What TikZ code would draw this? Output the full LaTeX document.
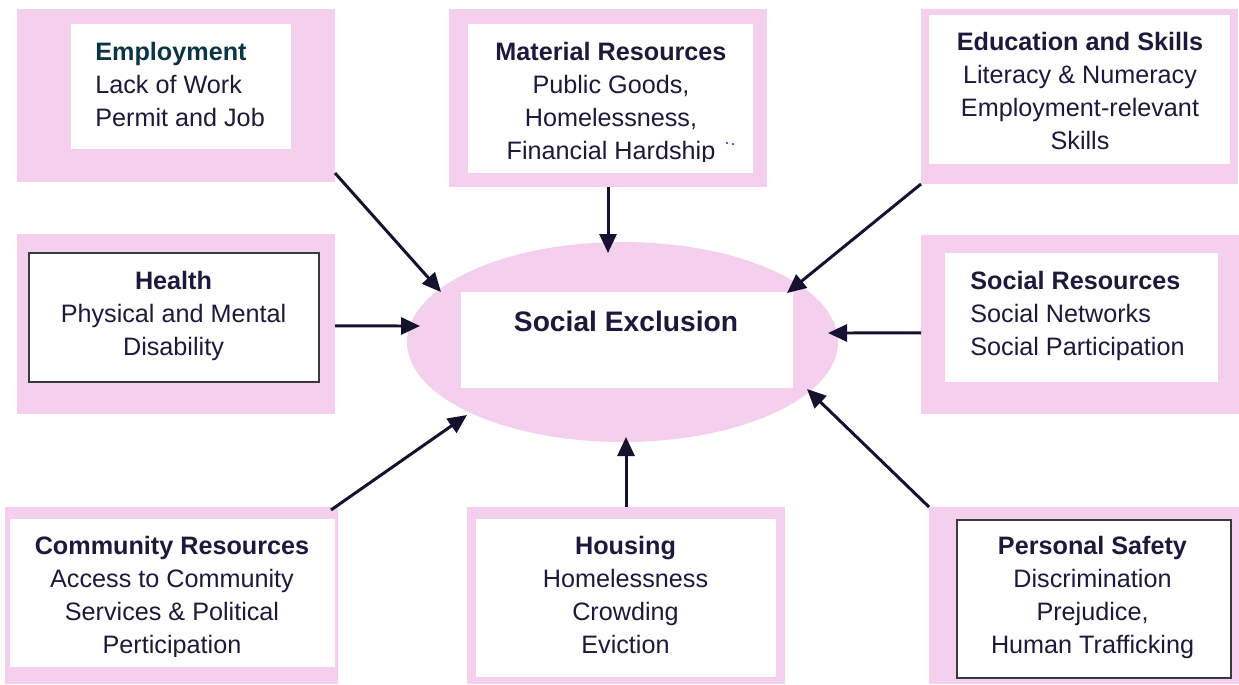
\documentclass[tikz,border=0pt]{standalone}
\usepackage{fontspec}
\setmainfont{Liberation Sans}
\usetikzlibrary{arrows.meta,fit,shapes.geometric}

\definecolor{pinkfill}{HTML}{F5CFEE}
\definecolor{inktext}{HTML}{1C1A3C}
\definecolor{inkarrow}{HTML}{15112F}
\definecolor{tealhead}{HTML}{0B3544}
\definecolor{framegray}{HTML}{3A3A3A}
\definecolor{dotblue}{HTML}{2A2AE0}

% text nodes are placed by the baseline of their last line
\tikzset{
  outerbox/.style={fill=pinkfill, draw=none, inner sep=0pt, outer sep=0pt},
  innerbox/.style={fill=white, draw=none, inner sep=0pt, outer sep=0pt},
  framedbox/.style={fill=white, draw=framegray, line width=0.75pt, inner sep=0pt, outer sep=0pt},
  boxtext/.style={inner sep=0pt, text=inktext, font=\fontsize{14.34}{18.78}\selectfont},
  centertext/.style={boxtext, align=center, anchor=base},
  lefttext/.style={boxtext, align=left, anchor=base west},
  feed/.style={draw=inkarrow, line width=1.7pt, -{Triangle[length=0.38cm,width=0.34cm]}}
}

\begin{document}
\begin{tikzpicture}[x=0.02cm, y=-0.02cm]
  \useasboundingbox (0,0) rectangle (1239,684);

  % central ellipse with its white panel
  \node[ellipse, fill=pinkfill, inner sep=0pt, minimum width=431*0.02cm, minimum height=200*0.02cm] (excl) at (622.5,342) {};
  \node[innerbox, fit={(461,292) (793,388)}] (exclpanel) {};
  \node[boxtext, anchor=base, font=\fontsize{16.05}{19}\selectfont\bfseries] (excltext) at (626,331) {Social Exclusion};

  % top row
  \node[outerbox, fit={(17,9) (335,182)}] (emp) {};
  \node[innerbox, fit={(71,24) (291,149)}] (empin) {};
  \node[lefttext] (emptext) at (95,126) {\textcolor{tealhead}{\textbf{Employment}}\\Lack of Work\\Permit and Job};

  \node[outerbox, fit={(449,9) (767,187)}] (mat) {};
  \node[innerbox, fit={(468,24) (753,173)}] (matin) {};
  \begin{scope}
    \clip (468,24) rectangle (753,161);
    \node[centertext] (mattext) at (611,159) {\textbf{Material Resources}\\Public Goods,\\Homelessness,\\Financial Hardship};
  \end{scope}
  \fill[dotblue] (727,143) circle[radius=0.7pt] (733,144) circle[radius=0.7pt];

  \node[outerbox, fit={(921,9) (1238,184)}] (edu) {};
  \node[innerbox, fit={(929,15) (1230,164)}] (eduin) {};
  \node[centertext] (edutext) at (1080,149) {\textbf{Education and Skills}\\Literacy \& Numeracy\\Employment-relevant\\Skills};

  % middle row
  \node[outerbox, fit={(17,234) (335,414)}] (hea) {};
  \node[framedbox, fit={(29,253) (319,382)}] (heain) {};
  \node[centertext] (heatext) at (173.5,355) {\textbf{Health}\\Physical and Mental\\Disability};

  \node[outerbox, fit={(921,235) (1239,414)}] (soc) {};
  \node[innerbox, fit={(945,253) (1218,382)}] (socin) {};
  \node[lefttext] (soctext) at (970,355) {\textbf{Social Resources}\\Social Networks\\Social Participation};

  % bottom row
  \node[outerbox, fit={(5,507) (338,684)}] (com) {};
  \node[innerbox, fit={(10,519) (335,667)}] (comin) {};
  \begin{scope}
    \clip (10,519) rectangle (335,656);
    \node[centertext] (comtext) at (172,653) {\textbf{Community Resources}\\Access to Community\\Services \& Political\\Perticipation};
  \end{scope}

  \node[outerbox, fit={(467,507) (785,684)}] (hou) {};
  \node[innerbox, fit={(476,519) (776,677)}] (houin) {};
  \node[centertext] (houtext) at (625.5,653) {\textbf{Housing}\\Homelessness\\Crowding\\Eviction};

  \node[outerbox, fit={(929,507) (1239,684)}] (per) {};
  \node[framedbox, fit={(957,520) (1231,678)}] (perin) {};
  \node[centertext] (pertext) at (1092.5,653) {\textbf{Personal Safety}\\Discrimination\\Prejudice,\\Human Trafficking};

  % arrow tips on the ellipse
  \coordinate (tipemp) at (441,292);
  \coordinate (tipmat) at (608,253);
  \coordinate (tipedu) at (787,293);
  \coordinate (tiphea) at (420,326);
  \coordinate (tipsoc) at (828,333);
  \coordinate (tipcom) at (467,415);
  \coordinate (tiphou) at (626,437);
  \coordinate (tipper) at (807,389);

  % connectors
  \draw[feed] ([yshift=5.1pt]emp.south east) -- (tipemp);
  \draw[feed] (mat.south) -- (tipmat);
  \draw[feed] (edu.south west) -- (tipedu);
  \draw[feed] ([yshift=-1.1pt]hea.east) -- (tiphea);
  \draw[feed] ([yshift=-4.8pt]soc.west) -- (tipsoc);
  \draw[feed] ([xshift=-4pt,yshift=-1.7pt]com.north east) -- (tipcom);
  \draw[feed] (hou.north) -- (tiphou);
  \draw[feed] (per.north west) -- (tipper);
\end{tikzpicture}
\end{document}
